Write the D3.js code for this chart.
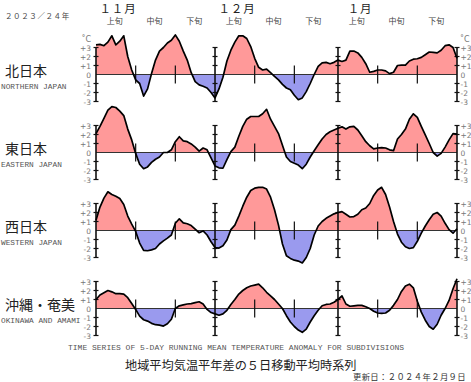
<!DOCTYPE html>
<html><head><meta charset="utf-8">
<script src="https://cdn.jsdelivr.net/npm/d3@7"></script>
<style>body{margin:0;background:#fff}svg{display:block}</style>
</head><body><svg id="c" width="471" height="382"></svg>
<script>
// ---- data ----
const monthLabels = ["１１月", "１２月", "１月"];
const monthStarts = [0, 30, 61];      // day index (0 = Nov 1)
const lastDay = 91;                   // Jan 31
const junLabels = ["上旬", "中旬", "下旬"];
const junOffsets = [4.5, 14.5, 24.5];
const junTicks = [10, 20, 40, 50, 71, 81];
const yTicks = [3, 2, 1, 0, -1, -2, -3];
const yTickLabels = ["+3", "+2", "+1", "0", "-1", "-2", "-3"];
const regionsJa = ["北日本", "東日本", "西日本", "沖縄・奄美"];
const regionsEn = ["NORTHERN JAPAN", "EASTERN JAPAN", "WESTERN JAPAN", "OKINAWA AND AMAMI"];
const yearLabel = "２０２３／２４年";
const titleEn = "TIME SERIES OF 5-DAY RUNNING MEAN TEMPERATURE ANOMALY FOR SUBDIVISIONS";
const titleJa = "地域平均気温平年差の５日移動平均時系列";
const updated = "更新日：２０２４年２月９日";

const north = [3.3,3.35,3.2,3.6,4.3,3.3,3.7,4.3,2.0,0.5, -0.6,-1.0,-2.4,-1.6,0.1,1.6,2.6,3.0,3.5,3.8,
  4.4,3.7,2.6,1.6,0.2,-0.8,-1.15,-1.3,-1.5,-2.0, -2.6,-1.6,-0.3,1.5,2.7,3.6,4.3,4.3,4.0,3.1,
  1.8,0.8,0.5,0.6,0.2,-0.2,-0.6,-1.1,-1.5,-1.7, -2.3,-2.8,-2.6,-1.9,-1.0,0.0,0.9,1.3,1.35,1.2,
  1.35,1.6,1.45,1.6,2.6,2.6,2.4,1.9,1.2,0.25, 0.35,0.5,0.5,0.4,0.1,0.25,1.0,1.05,1.05,1.5,
  1.7,1.75,1.9,2.2,2.5,2.45,2.4,2.7,3.2,3.3, 3.0,1.8];
const east = [2.1,2.9,3.8,4.7,5.1,5.0,4.6,4.1,2.6,1.4, -0.1,-1.3,-1.8,-1.6,-1.1,-0.75,-0.5,0.0,0.0,0.3,
  1.2,1.75,1.3,1.2,0.95,0.6,0.15,0.5,0.3,-0.6, -1.5,-1.7,-1.75,-0.8,0.1,0.6,1.8,2.9,3.7,4.0,
  4.0,4.0,4.3,4.8,3.7,2.9,2.1,0.8,-0.5,-1.0, -1.2,-1.4,-1.8,-1.3,-0.5,0.2,0.85,1.5,2.0,2.3,
  2.5,2.7,2.85,2.6,2.85,2.9,2.5,1.85,1.2,0.75, 0.4,0.5,0.55,0.5,0.3,0.2,1.5,2.0,2.6,3.7,
  4.3,3.9,2.9,1.95,1.0,0.0,-0.4,-0.1,0.6,1.4, 2.1,2.05];
const west = [1.15,2.6,3.6,4.3,4.0,3.8,3.55,2.9,1.6,0.7, -0.1,-1.4,-2.2,-2.25,-2.15,-2.0,-1.5,-1.15,-0.85,-0.5,
  0.8,1.3,0.85,0.75,0.55,0.15,-0.25,-0.05,-0.5,-1.25, -1.9,-1.95,-1.7,-1.05,0.1,0.6,1.6,2.7,3.7,4.45,
  4.7,4.8,4.8,4.6,3.7,2.3,0.6,-1.5,-2.8,-3.1, -3.3,-3.4,-3.6,-3.0,-2.0,-0.5,0.5,1.0,1.35,1.6,
  1.85,2.0,2.1,1.8,1.5,1.55,1.8,2.3,2.5,3.0, 3.9,4.5,4.8,4.0,2.6,1.0,-0.4,-1.3,-1.8,-2.0,
  -1.9,-1.2,-0.3,0.5,1.2,1.8,2.0,1.6,0.8,0.1, -0.3,0.2];
const okinawa = [1.0,1.5,1.75,2.0,1.85,1.65,1.65,1.6,1.2,0.55, -0.1,-0.85,-1.25,-1.4,-1.65,-1.8,-1.85,-1.95,-1.7,-1.2,
  0.0,0.3,0.4,0.5,0.55,0.65,0.75,0.5,-0.1,-0.45, -0.6,-0.75,-0.6,-0.2,0.45,1.0,1.6,2.0,2.3,2.5,
  2.6,2.7,2.3,1.8,1.4,1.0,0.5,0.0,-0.8,-1.5, -2.0,-2.4,-2.65,-2.3,-1.5,-0.8,-0.2,0.3,0.45,0.5,
  0.7,1.0,1.4,0.5,0.25,0.3,0.35,0.35,0.2,0.0, -0.3,-0.5,-0.55,-0.5,-0.2,0.35,1.0,1.9,2.5,2.7,
  2.3,0.8,-0.4,-1.3,-2.0,-2.3,-1.75,-0.75,0.0,0.9, 2.2,3.3];
const series = [north, east, west, okinawa];

// ---- drawing ----
const svg = d3.select("#c");
const JA = "'Noto Sans CJK JP', sans-serif";
const MONO = "'Liberation Mono', 'DejaVu Sans Mono', monospace";
const NUM = "'DejaVu Sans', sans-serif";
const POS = "#ff9999", NEG = "#9a9aee";

const x = d3.scaleLinear().domain([0, lastDay]).range([96, 457]);
const axisDays = monthStarts.concat([lastDay]);

// header
svg.append("text").attr("x", 5).attr("y", 19).attr("font-family", JA).attr("font-size", 7.5)
  .attr("letter-spacing", 0.6).attr("fill", "#444").text(yearLabel);
monthLabels.forEach((m, k) => {
  svg.append("text").attr("x", x(monthStarts[k]) + 22).attr("y", 13).attr("text-anchor", "middle")
    .attr("font-family", JA).attr("font-size", 11.5).attr("letter-spacing", 0.8).attr("fill", "#222").text(m);
  junLabels.forEach((j, q) => {
    svg.append("text").attr("x", x(monthStarts[k] + junOffsets[q]) + 1).attr("y", 23.5).attr("text-anchor", "middle")
      .attr("font-family", JA).attr("font-size", 8).attr("fill", "#444").text(j);
  });
});

series.forEach((vals, p) => {
  const zero = 74.5 + 78 * p;
  const y = d3.scaleLinear().domain([-3, 3]).range([zero + 27, zero - 27]);
  const g = svg.append("g");
  const idA = "ca" + p, idB = "cb" + p;
  const defs = svg.append("defs");
  defs.append("clipPath").attr("id", idA).append("rect").attr("x", 0).attr("width", 471)
    .attr("y", zero - 80).attr("height", 80);
  defs.append("clipPath").attr("id", idB).append("rect").attr("x", 0).attr("width", 471)
    .attr("y", zero).attr("height", 80);
  const area = d3.area().x((d, i) => x(i)).y0(y(0)).y1(d => y(d));
  g.append("path").datum(vals).attr("d", area).attr("fill", POS).attr("clip-path", `url(#${idA})`);
  g.append("path").datum(vals).attr("d", area).attr("fill", NEG).attr("clip-path", `url(#${idB})`);
  // zero line
  g.append("line").attr("x1", x(0)).attr("x2", x(lastDay)).attr("y1", y(0)).attr("y2", y(0))
    .attr("stroke", "#333").attr("stroke-width", 1.2);
  // 10-day ticks
  junTicks.forEach(d => {
    g.append("line").attr("x1", x(d)).attr("x2", x(d)).attr("y1", y(1)).attr("y2", y(-1))
      .attr("stroke", "#111").attr("stroke-width", 1.2);
  });
  // month axes
  axisDays.forEach(d => {
    const ax = g.append("g").attr("transform", `translate(${x(d)},0)`);
    ax.append("line").attr("y1", y(3)).attr("y2", y(-3)).attr("stroke", "#111").attr("stroke-width", 1.6);
    yTicks.filter(t => t !== 0).forEach(t => {
      ax.append("line").attr("x1", -2.5).attr("x2", 2.5).attr("y1", y(t)).attr("y2", y(t))
        .attr("stroke", "#111").attr("stroke-width", 1.2);
    });
  });
  // series line
  g.append("path").datum(vals).attr("d", d3.line().x((d, i) => x(i)).y(d => y(d)))
    .attr("fill", "none").attr("stroke", "#000").attr("stroke-width", 1.7).attr("stroke-linejoin", "round");
  // tick labels both sides
  yTicks.forEach((t, k) => {
    g.append("text").attr("x", x(0) - 5).attr("y", y(t) + 3).attr("text-anchor", "end")
      .attr("font-family", NUM).attr("font-size", 7.5).attr("fill", "#777").text(yTickLabels[k]);
    g.append("text").attr("x", x(lastDay) + 3.5).attr("y", y(t) + 3).attr("text-anchor", "start")
      .attr("font-family", NUM).attr("font-size", 7.5).attr("fill", "#777").text(yTickLabels[k]);
  });
  if (p === 0) {
    g.append("text").attr("x", x(0) - 5).attr("y", y(3) - 6).attr("text-anchor", "end")
      .attr("font-family", NUM).attr("font-size", 8).attr("fill", "#777").text("˚C");
    g.append("text").attr("x", x(lastDay) + 3).attr("y", y(3) - 6).attr("text-anchor", "start")
      .attr("font-family", NUM).attr("font-size", 8).attr("fill", "#777").text("˚C");
  }
  // region labels
  g.append("text").attr("x", 5).attr("y", zero + 1).attr("font-family", JA).attr("font-size", 14)
    .attr("fill", "#222").text(regionsJa[p]);
  g.append("text").attr("x", 1).attr("y", zero + 14).attr("font-family", MONO).attr("font-size", 7.8)
    .attr("fill", "#555").text(regionsEn[p]);
});

// footer
svg.append("text").attr("x", 68).attr("y", 350).attr("font-family", MONO).attr("font-size", 8)
  .attr("fill", "#555").text(titleEn);
svg.append("text").attr("x", 125).attr("y", 370).attr("font-family", JA).attr("font-size", 12.2)
  .attr("fill", "#222").text(titleJa);
svg.append("text").attr("x", 466).attr("y", 380).attr("text-anchor", "end").attr("font-family", JA)
  .attr("font-size", 8.3).attr("letter-spacing", 0.4).attr("fill", "#333").text(updated);
</script></body></html>
